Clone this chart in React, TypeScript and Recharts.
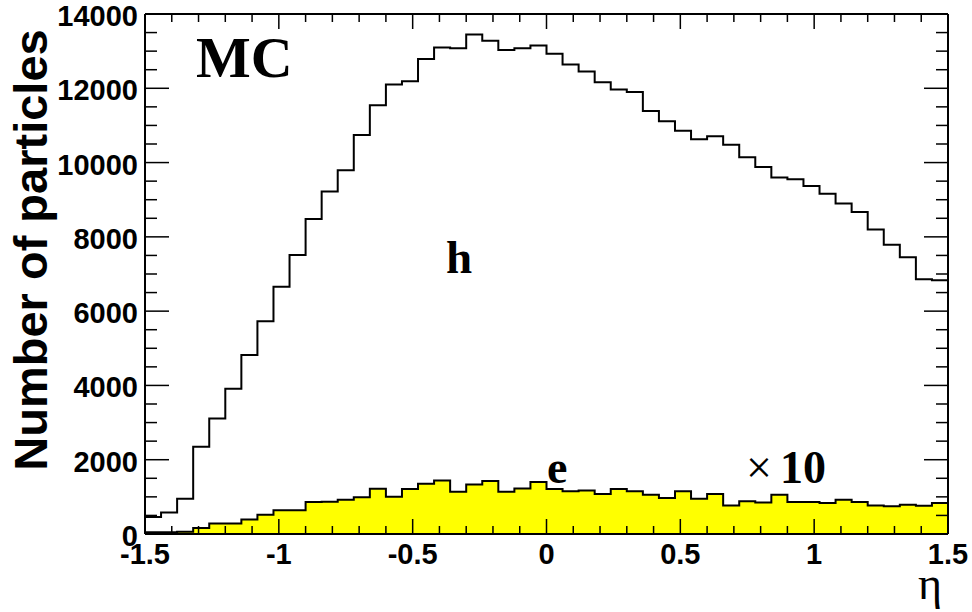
import React from 'react';
import { ComposedChart, Area, Line, XAxis, YAxis } from 'recharts';

// eta binning: 50 bins of 0.06 between -1.5 and 1.5
const ETA_MIN = -1.5;
const ETA_MAX = 1.5;
const N_BINS = 50;

// hadrons per bin
const hCounts = [
  460, 580, 950, 2350, 3110, 3910, 4820, 5730, 6660, 7510,
  8480, 9220, 9790, 10740, 11540, 12100, 12190, 12790, 13100, 13080,
  13450, 13280, 13030, 13080, 13150, 12930, 12640, 12450, 12160, 11970,
  11900, 11390, 11110, 10860, 10630, 10710, 10480, 10140, 9880, 9600,
  9550, 9370, 9160, 8900, 8670, 8200, 7790, 7450, 6860, 6830,
];

// electrons per bin (already scaled x10)
const eCounts = [
  50, 50, 60, 160, 280, 280, 390, 520, 640, 640,
  860, 870, 920, 990, 1220, 1000, 1210, 1350, 1440, 1135,
  1335, 1430, 1140, 1225, 1400, 1210, 1150, 1170, 1075, 1210,
  1150, 1060, 970, 1150, 950, 1075, 770, 880, 850, 1060,
  860, 860, 835, 925, 860, 770, 745, 790, 760, 835,
];

const xMajorTicks = [-1.5, -1, -0.5, 0, 0.5, 1, 1.5];
const yMajorTicks = [0, 2000, 4000, 6000, 8000, 10000, 12000, 14000];

const X_MINOR_STEP = 0.1;
const Y_MINOR_STEP = 500;

const round = (v: number) => Math.round(v * 1000) / 1000;

const xTicks: number[] = [];
for (let v = ETA_MIN; v <= ETA_MAX + 1e-9; v += X_MINOR_STEP) xTicks.push(round(v));
const yTicks: number[] = [];
for (let v = 0; v <= 14000; v += Y_MINOR_STEP) yTicks.push(v);

const binWidth = (ETA_MAX - ETA_MIN) / N_BINS;
// one point per bin edge; the last edge repeats the last bin so the step closes
const data = Array.from({ length: N_BINS + 1 }, (_, i) => ({
  x: round(ETA_MIN + i * binWidth),
  h: hCounts[Math.min(i, N_BINS - 1)],
  e: eCounts[Math.min(i, N_BINS - 1)],
}));

const isMajor = (v: number, majors: number[]) => majors.some((m) => Math.abs(m - v) < 1e-6);

const SANS = '"Liberation Sans", Arial, Helvetica, sans-serif';
const SERIF = '"Liberation Serif", "Times New Roman", serif';

// ROOT-style ticks: drawn inward from the frame, longer at major positions
const makeTick = (side: 'bottom' | 'top' | 'left' | 'right') => (props: any) => {
  const { x, y, payload } = props;
  const v = payload.value;
  const horiz = side === 'bottom' || side === 'top';
  const major = horiz ? isMajor(v, xMajorTicks) : isMajor(v, yMajorTicks);
  const len = horiz ? (major ? 15 : 8) : major ? 24 : 12;
  let x2 = x;
  let y2 = y;
  if (side === 'bottom') y2 = y - len;
  if (side === 'top') y2 = y + len;
  if (side === 'left') x2 = x + len;
  if (side === 'right') x2 = x - len;
  return (
    <g>
      <line x1={x} y1={y} x2={x2} y2={y2} stroke="#000" strokeWidth={1.5} />
      {major && side === 'bottom' && (
        <text x={x} y={y + 30} textAnchor="middle" fontFamily={SANS} fontWeight="bold" fontSize={29} fill="#000">
          {String(round(v))}
        </text>
      )}
      {major && side === 'left' && (
        <text x={x - 7} y={y + 12} textAnchor="end" fontFamily={SANS} fontWeight="bold" fontSize={29} fill="#000">
          {String(v)}
        </text>
      )}
    </g>
  );
};

const frameLine = { stroke: '#000', strokeWidth: 2 };

export default function App() {
  return (
    <div style={{ position: 'absolute', left: 0, top: 0, width: 972, height: 612, background: '#fff' }}>
      <ComposedChart
        width={972}
        height={612}
        data={data}
        margin={{ top: 4, right: 14, bottom: 48, left: 45 }}
      >
        <XAxis
          dataKey="x"
          type="number"
          domain={[ETA_MIN, ETA_MAX]}
          allowDataOverflow
          ticks={xTicks}
          interval={0}
          height={30}
          tickSize={0}
          tickMargin={0}
          tickLine={false}
          axisLine={frameLine}
          tick={makeTick('bottom')}
        />
        <XAxis
          xAxisId="top"
          orientation="top"
          dataKey="x"
          type="number"
          domain={[ETA_MIN, ETA_MAX]}
          allowDataOverflow
          ticks={xTicks}
          interval={0}
          height={10}
          tickSize={0}
          tickMargin={0}
          tickLine={false}
          axisLine={frameLine}
          tick={makeTick('top')}
        />
        <YAxis
          type="number"
          domain={[0, 14000]}
          allowDataOverflow
          ticks={yTicks}
          interval={0}
          width={100}
          tickSize={0}
          tickMargin={0}
          tickLine={false}
          axisLine={frameLine}
          tick={makeTick('left')}
        />
        <YAxis
          yAxisId="right"
          orientation="right"
          type="number"
          domain={[0, 14000]}
          allowDataOverflow
          ticks={yTicks}
          interval={0}
          width={10}
          tickSize={0}
          tickMargin={0}
          tickLine={false}
          axisLine={frameLine}
          tick={makeTick('right')}
        />
        <Area
          dataKey="e"
          type="stepAfter"
          fill="#ffff00"
          fillOpacity={1}
          stroke="#000"
          strokeWidth={2}
          baseValue={0}
          isAnimationActive={false}
          dot={false}
          activeDot={false}
        />
        <Line
          dataKey="h"
          type="stepAfter"
          stroke="#000"
          strokeWidth={2}
          dot={false}
          activeDot={false}
          isAnimationActive={false}
        />
      </ComposedChart>
      <svg
        width={972}
        height={612}
        style={{ position: 'absolute', left: 0, top: 0, pointerEvents: 'none' }}
      >
        <text
          transform="translate(47, 250) rotate(-90)"
          textAnchor="middle"
          fontFamily={SANS}
          fontWeight="bold"
          fontSize={47}
          fill="#000"
        >
          Number of particles
        </text>
        <text x={942} y={599} textAnchor="end" fontFamily={SERIF} fontSize={46} fill="#000">
          η
        </text>
        <text x={196} y={77} fontFamily={SERIF} fontWeight="bold" fontSize={58} fill="#000">
          MC
        </text>
        <text x={446} y={273} fontFamily={SERIF} fontWeight="bold" fontSize={47} fill="#000">
          h
        </text>
        <text x={547} y={483} fontFamily={SERIF} fontWeight="bold" fontSize={46} fill="#000">
          e
        </text>
        <text x={746} y={483} fontFamily={SERIF} fontSize={46} fill="#000">
          ×
          <tspan dx={8} fontWeight="bold">10</tspan>
        </text>
      </svg>
    </div>
  );
}
